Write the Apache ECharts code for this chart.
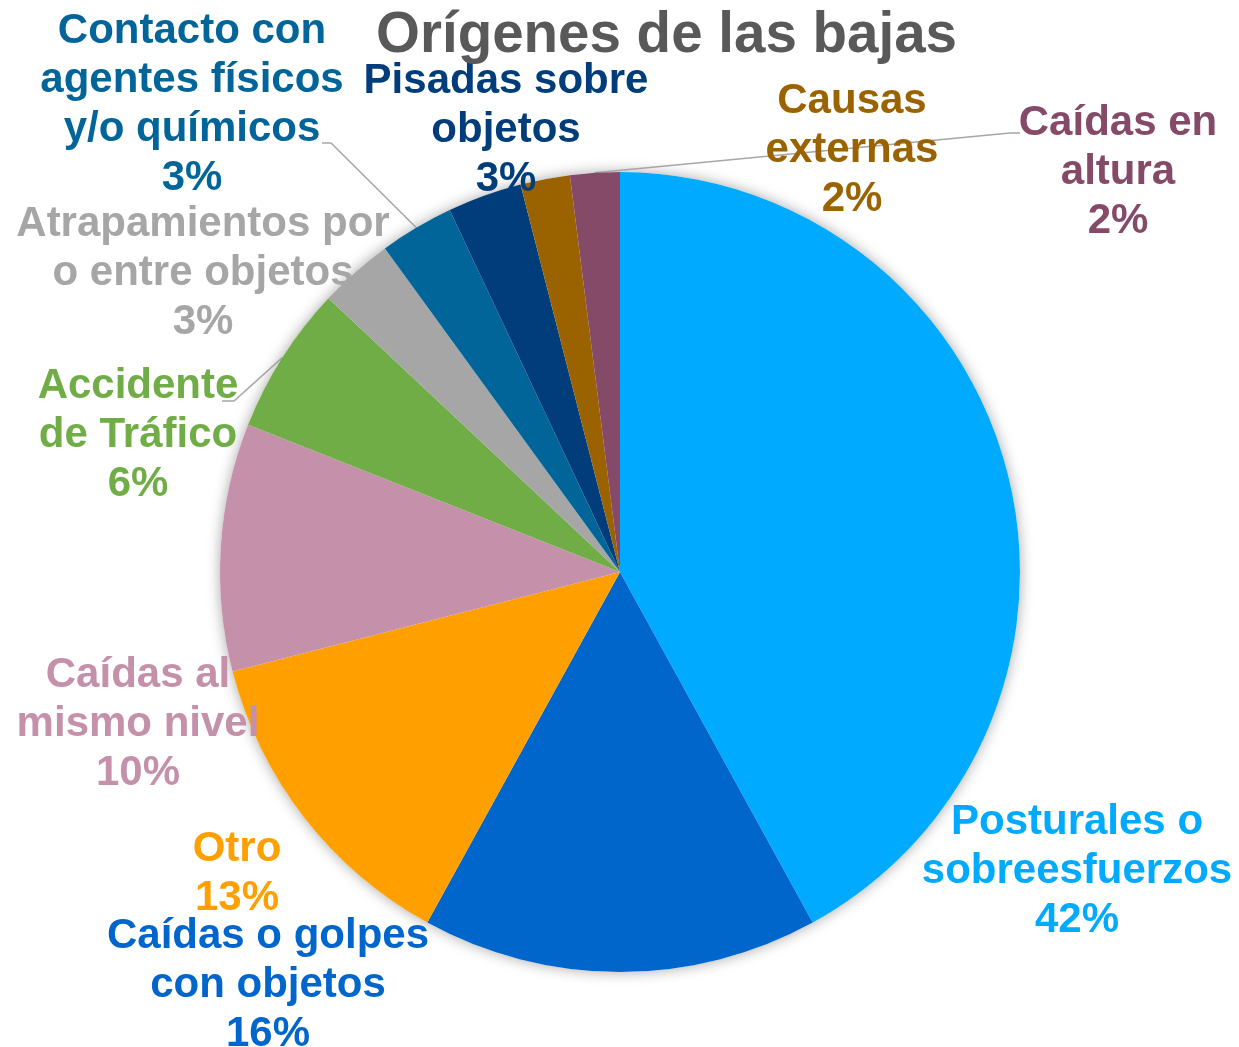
<!DOCTYPE html>
<html>
<head>
<meta charset="utf-8">
<script src="https://cdn.jsdelivr.net/npm/echarts@6/dist/echarts.min.js"></script>
<style>
  html, body { margin: 0; padding: 0; background: #ffffff; }
  #chart { width: 1239px; height: 1047px; }
</style>
</head>
<body>
<div id="chart"></div>
<script>
// Causes of sick leave, share of total (%)
const categories = [
  'Posturales o\nsobreesfuerzos',
  'Caídas o golpes\ncon objetos',
  'Otro',
  'Caídas al\nmismo nivel',
  'Accidente\nde Tráfico',
  'Atrapamientos por\no entre objetos',
  'Contacto con\nagentes físicos\ny/o químicos',
  'Pisadas sobre\nobjetos',
  'Causas\nexternas',
  'Caídas en\naltura'
];
const shares = [42, 16, 13, 10, 6, 3, 3, 3, 2, 2];

const sliceColors = [
  '#00AAFF', '#0066CC', '#FFA000', '#C490AA', '#70AD47',
  '#A6A6A6', '#02659A', '#003D7A', '#9A6300', '#854A68'
];

// Where each label block sits (centre of the text block)
const labelAnchors = [
  [1077, 871], [268, 985], [237, 874], [138, 724], [138, 435],
  [203, 273], [192, 105], [506, 130], [852, 150], [1118, 172]
];
// Elbow and end of the leader lines that are drawn
const leaderEnds = {
  4: [[234, 401], [222, 401]],
  6: [[331, 143], [322, 143]],
  9: [[1010, 133], [1020, 133]]
};

const CX = 620, CY = 572, R = 400;
const total = shares.reduce((a, b) => a + b, 0);

// point on the rim at the middle of slice i
function rimPoint(i) {
  let before = 0;
  for (let k = 0; k < i; k++) before += shares[k];
  const a = (before + shares[i] / 2) / total * 2 * Math.PI;
  return [CX + R * Math.sin(a), CY - R * Math.cos(a)];
}

const chart = echarts.init(document.getElementById('chart'), null, { renderer: 'canvas' });

chart.setOption({
  animation: false,
  backgroundColor: '#ffffff',
  title: {
    text: 'Orígenes de las bajas',
    left: 376,
    top: 8,
    padding: 0,
    textStyle: {
      fontFamily: 'Liberation Sans, Arial, sans-serif',
      fontSize: 56.5,
      fontWeight: 'bold',
      color: '#595959'
    }
  },
  series: [
    {
      // soft shadow disc behind the slices
      type: 'pie',
      silent: true,
      center: [CX, CY],
      radius: R,
      z: 1,
      label: { show: false },
      labelLine: { show: false },
      itemStyle: {
        color: '#ffffff',
        shadowBlur: 14,
        shadowColor: 'rgba(0,0,0,0.35)'
      },
      data: [{ value: total, name: '' }]
    },
    {
      type: 'pie',
      center: [CX, CY],
      radius: R,
      startAngle: 90,
      clockwise: true,
      z: 2,
      avoidLabelOverlap: false,
      data: categories.map((name, i) => ({
        name: name,
        value: shares[i],
        itemStyle: { color: sliceColors[i] },
        label: { color: sliceColors[i] },
        labelLine: { show: leaderEnds[i] != null }
      })),
      label: {
        show: true,
        position: 'outside',
        formatter: '{b}\n{d}%',
        fontFamily: 'Liberation Sans, Arial, sans-serif',
        fontSize: 42,
        fontWeight: 'bold',
        lineHeight: 49,
        align: 'center'
      },
      labelLine: {
        show: false,
        lineStyle: { color: '#A6A6A6', width: 1.5 }
      },
      labelLayout: function (params) {
        const i = params.dataIndex;
        const pos = labelAnchors[i];
        const out = {
          x: pos[0],
          y: pos[1],
          align: 'center',
          verticalAlign: 'middle'
        };
        if (leaderEnds[i]) {
          out.labelLinePoints = [rimPoint(i), leaderEnds[i][0], leaderEnds[i][1]];
        }
        return out;
      }
    }
  ]
});
</script>
</body>
</html>
